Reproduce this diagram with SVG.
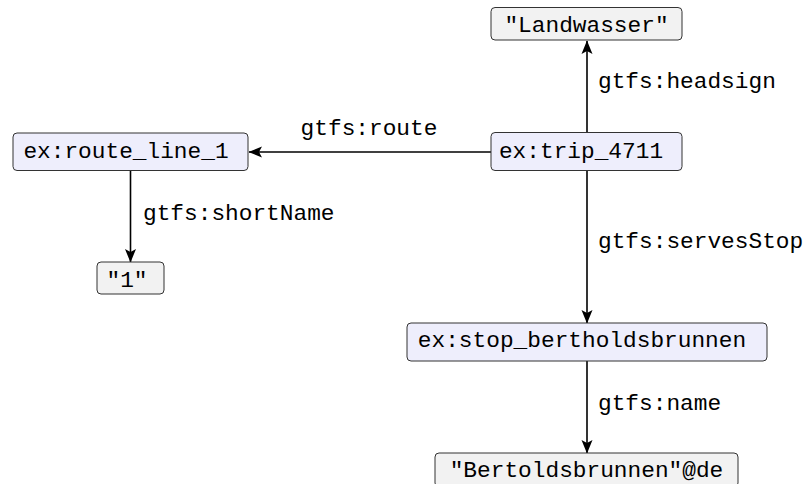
<svg xmlns="http://www.w3.org/2000/svg" width="808" height="484" viewBox="0 0 808 484">
  <style>
    .iri { fill: #eeeefc; stroke: #333333; stroke-width: 1; }
    .lit { fill: #f2f2f2; stroke: #333333; stroke-width: 1; }
    .lbl { font-family: "Liberation Mono", "DejaVu Sans Mono", monospace; font-size: 22.8px; fill: #000000; }
    .mid { text-anchor: middle; }
    .edge { stroke: #000000; stroke-width: 1.6; fill: none; marker-end: url(#head); }
  </style>
  <defs>
    <marker id="head" viewBox="0 0 14 12" refX="13" refY="6" markerWidth="14" markerHeight="12" markerUnits="userSpaceOnUse" orient="auto">
      <path d="M0,0.5 L13.5,6 L0,11.5 L3,6 Z" fill="#000000"/>
    </marker>
  </defs>

  <rect width="808" height="484" fill="#ffffff"/>

  <!-- connectors -->
  <g id="edges">
    <line class="edge" x1="587" y1="133" x2="587" y2="41"/>
    <line class="edge" x1="491" y1="152" x2="249" y2="152"/>
    <line class="edge" x1="130.5" y1="171" x2="130.5" y2="262"/>
    <line class="edge" x1="587" y1="171" x2="587" y2="323"/>
    <line class="edge" x1="587" y1="361" x2="587" y2="453"/>
    <text class="lbl" x="598" y="88">gtfs:headsign</text>
    <text class="lbl mid" x="369" y="135">gtfs:route</text>
    <text class="lbl" x="143" y="220">gtfs:shortName</text>
    <text class="lbl" x="598" y="248">gtfs:servesStop</text>
    <text class="lbl" x="598" y="410">gtfs:name</text>
  </g>

  <g id="landwasser">
    <rect class="lit" x="491" y="7.5" width="191" height="32.5" rx="4"/>
    <text class="lbl mid" x="586.5" y="32">"Landwasser"</text>
  </g>

  <g id="trip_4711">
    <rect class="iri" x="491" y="132.5" width="191" height="38" rx="4"/>
    <text class="lbl mid" x="581" y="158">ex:trip_4711</text>
  </g>

  <g id="route_line_1">
    <rect class="iri" x="13" y="133" width="235" height="37.5" rx="4"/>
    <text class="lbl mid" x="126" y="158">ex:route_line_1</text>
  </g>

  <g id="short_name">
    <rect class="lit" x="97" y="262" width="67" height="32" rx="4"/>
    <text class="lbl mid" x="127" y="287">"1"</text>
  </g>

  <g id="stop_bertholdsbrunnen">
    <rect class="iri" x="407" y="323" width="360" height="38" rx="4"/>
    <text class="lbl mid" x="582" y="347">ex:stop_bertholdsbrunnen</text>
  </g>

  <g id="stop_name">
    <rect class="lit" x="435" y="453" width="303" height="34" rx="4"/>
    <text class="lbl mid" x="586.5" y="477">"Bertoldsbrunnen"@de</text>
  </g>
</svg>
